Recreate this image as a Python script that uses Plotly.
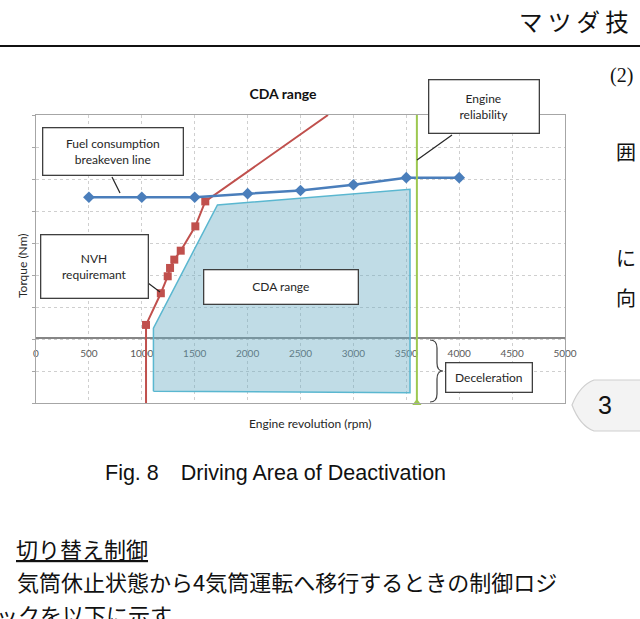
import plotly.graph_objects as go

W, H = 640, 619

# ---------------- data ----------------
fuel_rpm = [500, 1000, 1500, 2000, 2500, 3000, 3500, 4000]
fuel_torque = [4.43, 4.43, 4.43, 4.54, 4.64, 4.82, 5.04, 5.04]

nvh_line_rpm = [1040, 1040, 1180, 1245, 1267, 1307, 1368, 1506, 1600, 2760]
nvh_line_torque = [-2.0, 0.44, 1.43, 1.96, 2.22, 2.48, 2.76, 3.52, 4.30, 7.0]
nvh_pts_rpm = [1040, 1180, 1245, 1267, 1307, 1368, 1506, 1600]
nvh_pts_torque = [0.44, 1.43, 1.96, 2.22, 2.48, 2.76, 3.52, 4.30]

cda_rpm = [1110, 1110, 1715, 3535, 3535, 1110]
cda_torque = [-1.63, 0.34, 4.19, 4.68, -1.68, -1.63]

rel_rpm = [3600, 3600]
rel_torque = [-2.0, 7.05]

x_ticks = [0, 500, 1000, 1500, 2000, 2500, 3000, 3500, 4000, 4500, 5000]
x_range = [0, 5000]
y_range = [-2, 7]

# ---------------- helpers (window pixels -> paper) ----------------
def px(x):
    return x / W

def py(y):
    return 1 - y / H

CHART_FONT = "Lato"
BOX_LINE = "#3f3f3f"

fig = go.Figure()

fig.add_trace(go.Scatter(
    x=cda_rpm, y=cda_torque, mode="lines", fill="toself",
    fillcolor="rgba(105,172,195,0.42)",
    line=dict(color="#5ab7d0", width=1.5), hoverinfo="skip", showlegend=False))

fig.add_trace(go.Scatter(
    x=nvh_line_rpm, y=nvh_line_torque, mode="lines",
    line=dict(color="#c0504d", width=2), showlegend=False))
fig.add_trace(go.Scatter(
    x=nvh_pts_rpm, y=nvh_pts_torque, mode="markers",
    marker=dict(symbol="square", size=8, color="#c0504d"), showlegend=False))

fig.add_trace(go.Scatter(
    x=fuel_rpm, y=fuel_torque, mode="lines+markers",
    line=dict(color="#4a7ebb", width=2.5),
    marker=dict(symbol="diamond", size=9, color="#4a7ebb"), showlegend=False))

fig.add_trace(go.Scatter(
    x=rel_rpm, y=rel_torque, mode="lines+markers", cliponaxis=False,
    line=dict(color="#9dc850", width=2),
    marker=dict(symbol="triangle-up", size=8, color="#9dc850"), showlegend=False))

# invisible trace for the tick axis at torque = 0
fig.add_trace(go.Scatter(x=[0], y=[0], xaxis="x2", mode="markers",
                         marker=dict(opacity=0), showlegend=False, hoverinfo="skip"))

fig.update_layout(
    width=W, height=H, template="none",
    paper_bgcolor="white", plot_bgcolor="white",
    margin=dict(l=0, r=0, t=0, b=0, pad=0),
    showlegend=False,
    font=dict(family=CHART_FONT, color="#404040"),
    title=dict(text="<b>CDA range</b>", x=px(283), y=py(94), xanchor="center",
               yanchor="middle", xref="paper", yref="paper",
               font=dict(size=14, color="#111111", family=CHART_FONT)),
    xaxis=dict(range=x_range, tickvals=x_ticks, showticklabels=False, ticks="",
               domain=[px(36), px(565)],
               showgrid=True, gridcolor="#cfcfcf", griddash="dot", gridwidth=1,
               showline=True, linecolor="#a6a6a6", linewidth=1.2, mirror=True,
               zeroline=False, automargin=False),
    xaxis2=dict(range=x_range, tickvals=x_ticks, overlaying="x", anchor="free",
                domain=[px(36), px(565)],
                position=py(338), side="bottom", showgrid=False, zeroline=False,
                showline=True, linecolor="#868686", linewidth=1.5, ticks="",
                ticklabelstandoff=6, layer="below traces", automargin=False,
                tickfont=dict(size=10, color="#595959", family=CHART_FONT)),
    yaxis=dict(range=y_range, dtick=1, showticklabels=False, ticks="outside",
               domain=[py(403), py(115)],
               ticklen=3, tickcolor="#a6a6a6",
               showgrid=True, gridcolor="#cfcfcf", griddash="dot", gridwidth=1,
               showline=True, linecolor="#a6a6a6", linewidth=1.2, mirror=True,
               zeroline=False, automargin=False),
)

ann = []
shapes = []

def box(text, x0, y0, x1, y1, size=12):
    ann.append(dict(text=text, x=px((x0 + x1) / 2), y=py((y0 + y1) / 2),
                    xref="paper", yref="paper", xanchor="center", yanchor="middle",
                    showarrow=False, width=x1 - x0 - 2, height=y1 - y0 - 2,
                    bgcolor="white", bordercolor=BOX_LINE, borderwidth=1.3, borderpad=0,
                    font=dict(size=size, color="#262626", family=CHART_FONT)))

def seg(x0, y0, x1, y1, color="#262626", width=1.2):
    shapes.append(dict(type="line", xref="paper", yref="paper",
                       x0=px(x0), y0=py(y0), x1=px(x1), y1=py(y1),
                       line=dict(color=color, width=width)))

seg(112, 177, 120, 193)
seg(148, 283, 160, 292)
seg(452, 135, 417, 160)

box("Fuel consumption<br>breakeven line", 42, 128, 183, 176)
box("NVH<br>requiremant", 40, 234, 148, 298)
box("CDA range", 203, 269, 358, 304)
box("Engine<br>reliability", 428, 79, 539, 133)
box("Deceleration", 445, 362, 532, 392)

# curly brace
def P(x, y):
    return f"{px(x):.5f},{py(y):.5f}"

brace = (f"M {P(430,340)} Q {P(437,340)} {P(437,348)} L {P(437,363)} "
         f"Q {P(437,371)} {P(443,371)} Q {P(437,371)} {P(437,379)} L {P(437,394)} "
         f"Q {P(437,402)} {P(430,402)}")
shapes.append(dict(type="path", xref="paper", yref="paper", path=brace,
                   line=dict(color="#404040", width=1.2)))

# axis titles
ann.append(dict(text="Engine revolution (rpm)", x=px(310), y=py(423), xref="paper", yref="paper",
                showarrow=False, xanchor="center", yanchor="middle",
                font=dict(size=12, color="#262626", family=CHART_FONT)))
ann.append(dict(text="Torque (Nm)", x=px(22), y=py(266), xref="paper", yref="paper",
                showarrow=False, textangle=-90, xanchor="center", yanchor="middle",
                font=dict(size=12, color="#262626", family=CHART_FONT)))

# ---------------- page elements ----------------
JP = "Noto Sans CJK JP"
ann.append(dict(text="マ ツ ダ 技", x=px(517), y=py(21), xref="paper", yref="paper",
                showarrow=False, xanchor="left", yanchor="middle",
                font=dict(size=23.5, color="#111111", family=JP)))
seg(0, 46, 640, 46, color="#111111", width=2.2)

ann.append(dict(text="(2)", x=px(608), y=py(75), xref="paper", yref="paper",
                showarrow=False, xanchor="left", yanchor="middle",
                font=dict(size=20, color="#111111", family="Liberation Serif")))
for ch, yy in [("囲", 152), ("に", 257), ("向", 297)]:
    ann.append(dict(text=ch, x=px(614), y=py(yy), xref="paper", yref="paper",
                    showarrow=False, xanchor="left", yanchor="middle",
                    font=dict(size=20, color="#111111", family=JP)))

tab = (f"M {P(641,380)} L {P(594,380)} Q {P(580,385)} {P(572,405)} "
       f"Q {P(580,426)} {P(594,431)} L {P(641,431)} Z")
shapes.append(dict(type="path", xref="paper", yref="paper", path=tab,
                   fillcolor="#f3f3f3", line=dict(color="#cfcfcf", width=1.2)))
ann.append(dict(text="3", x=px(605), y=py(405), xref="paper", yref="paper",
                showarrow=False, xanchor="center", yanchor="middle",
                font=dict(size=25, color="#111111", family="Liberation Sans")))

ann.append(dict(text="Fig. 8\u3000Driving Area of Deactivation", x=px(275), y=py(473),
                xref="paper", yref="paper", showarrow=False, xanchor="center", yanchor="middle",
                font=dict(size=21.5, color="#111111", family="Liberation Sans")))

ann.append(dict(text="<u>切り替え制御</u>", x=px(14), y=py(548), xref="paper", yref="paper",
                showarrow=False, xanchor="left", yanchor="middle",
                font=dict(size=22, color="#111111", family=JP)))
ann.append(dict(text="気筒休止状態から4気筒運転へ移行するときの制御ロジ", x=px(15), y=py(581),
                xref="paper", yref="paper", showarrow=False, xanchor="left", yanchor="middle",
                font=dict(size=22, color="#111111", family=JP)))
ann.append(dict(text="ックを以下に示す", x=px(-6), y=py(614), xref="paper", yref="paper",
                showarrow=False, xanchor="left", yanchor="middle",
                font=dict(size=22, color="#111111", family=JP)))

fig.update_layout(annotations=ann, shapes=shapes)

fig.write_html(
    "out.html",
    config={"displayModeBar": False},
    post_script="document.body.style.margin='0';document.body.style.overflow='hidden';",
)
